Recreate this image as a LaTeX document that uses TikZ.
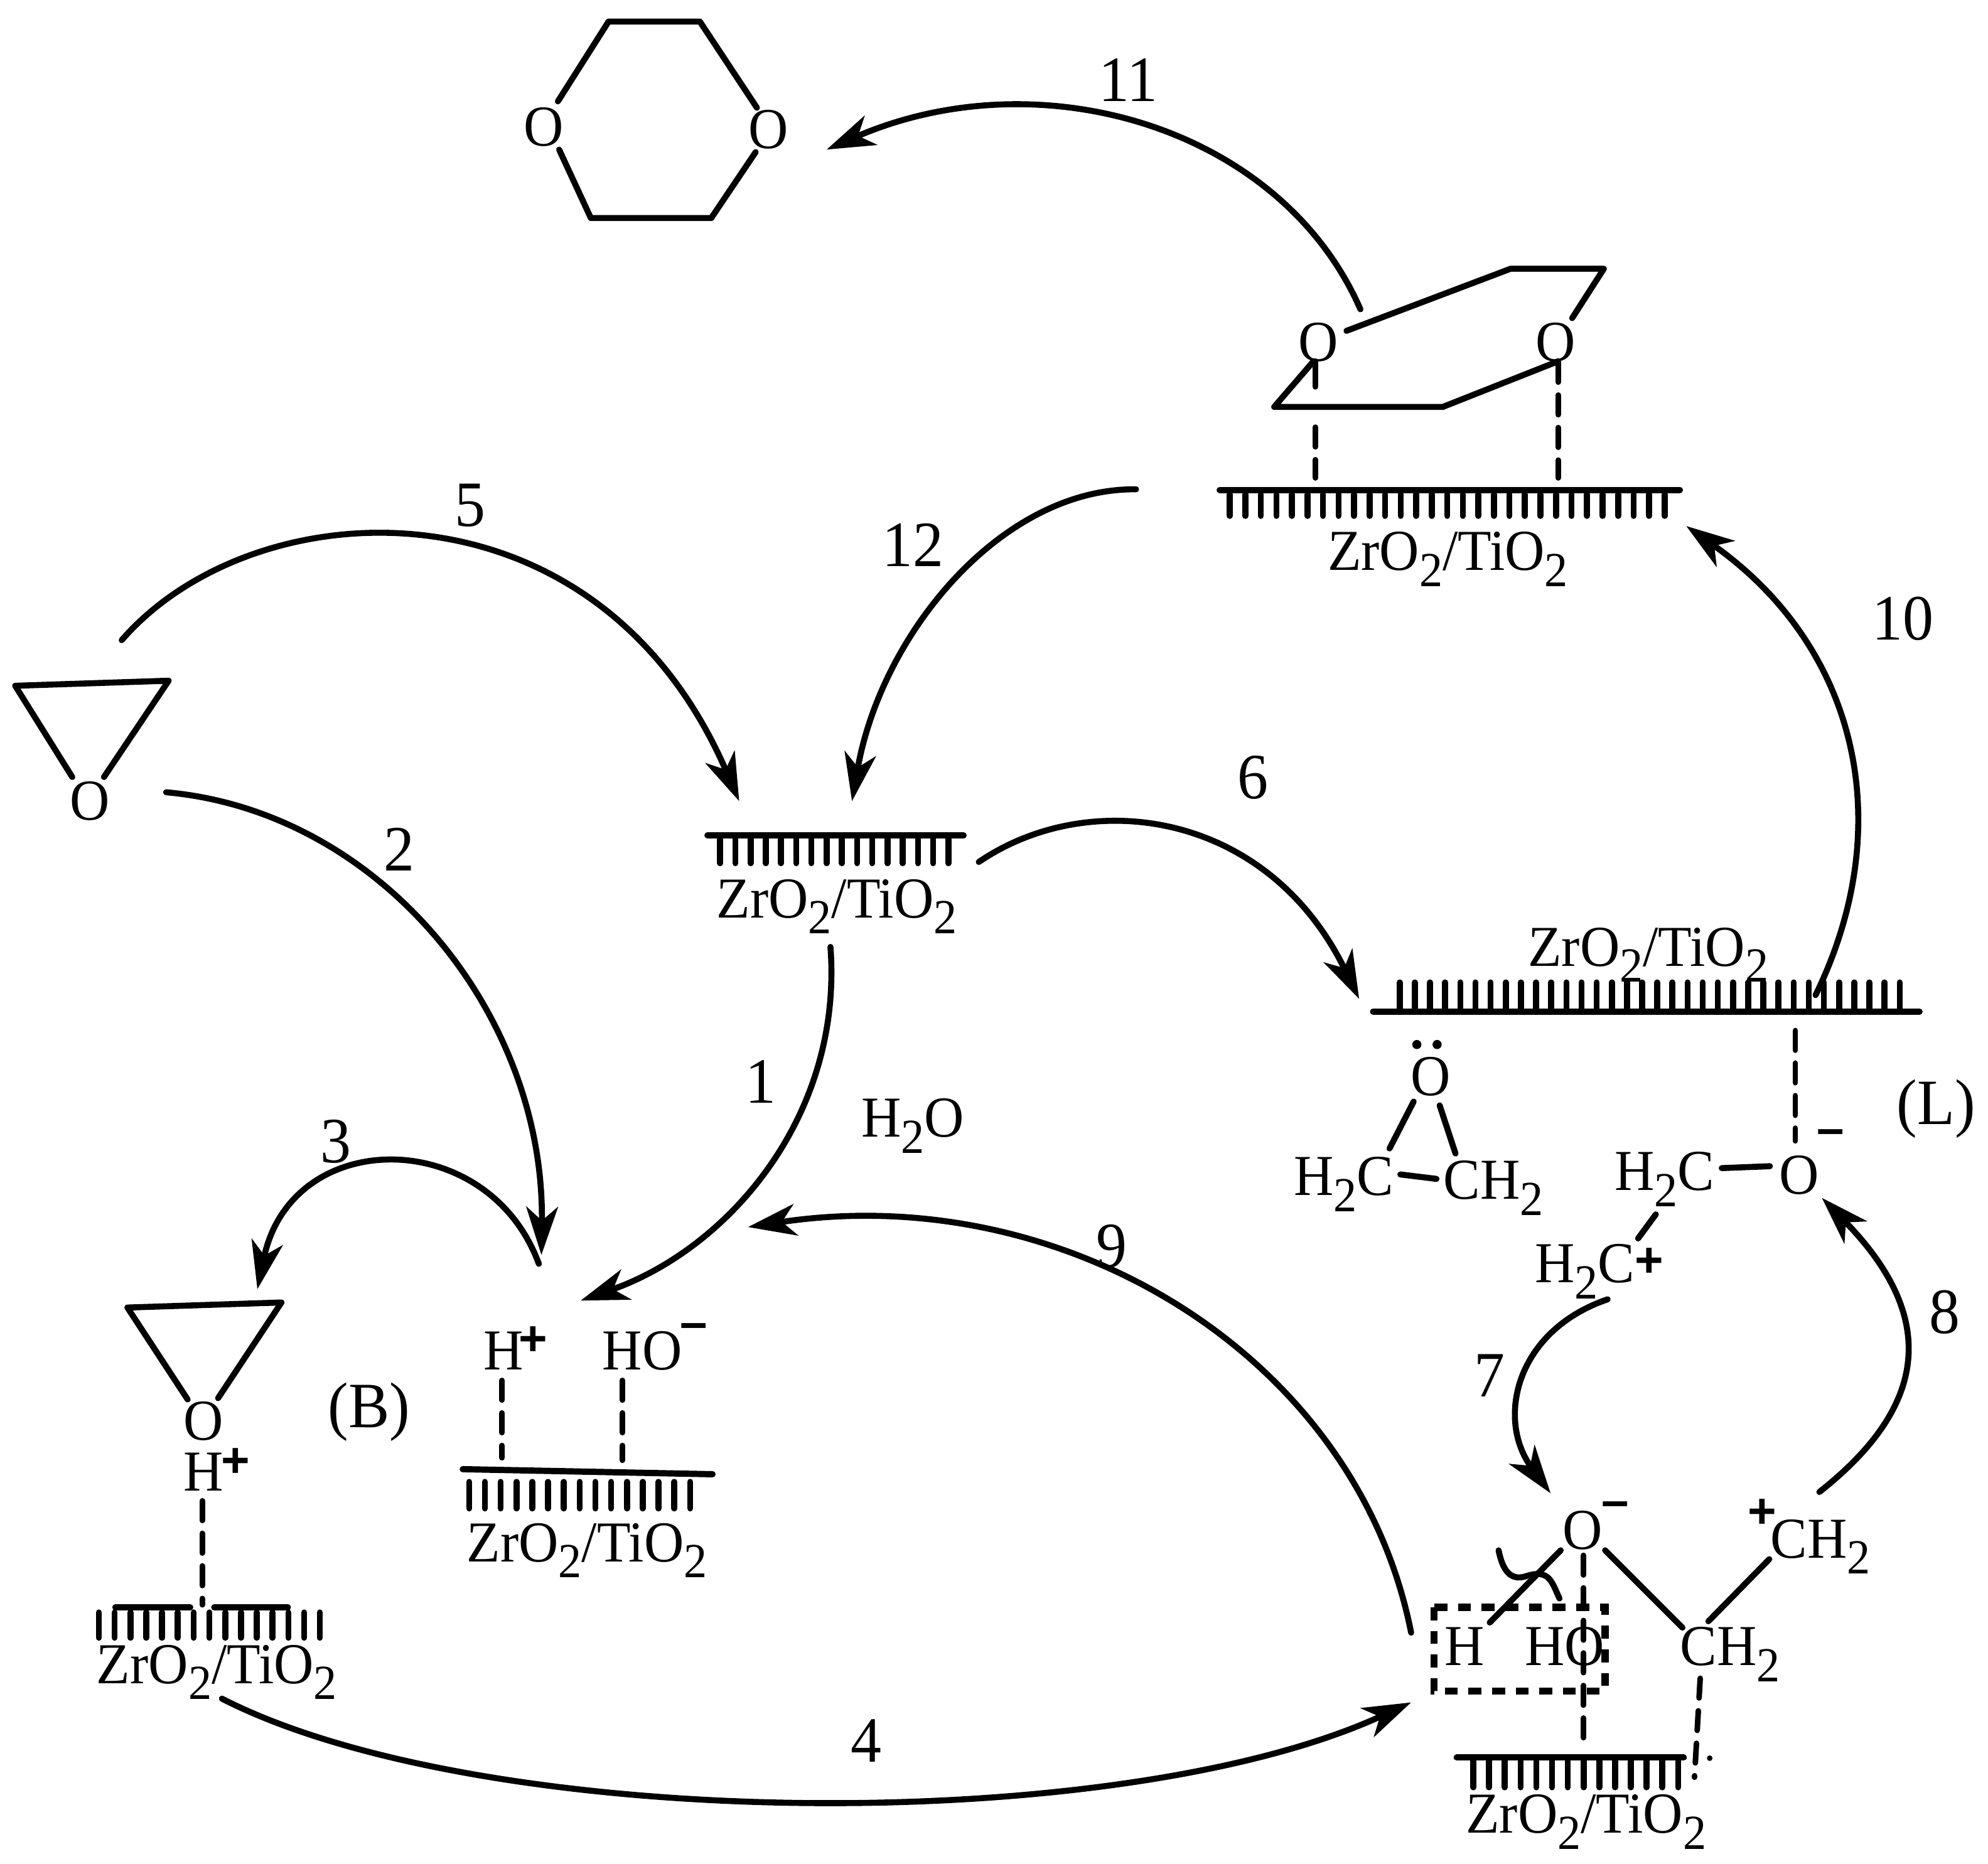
\documentclass[tikz,border=0pt]{standalone}
\usepackage{fontspec}
\setmainfont[FakeStretch=0.95]{Liberation Serif}
\newfontfamily\chgfont{Liberation Sans}
\usetikzlibrary{arrows.meta}

\newcommand{\sbt}{\raisebox{-3.6pt}{\fontsize{11}{11}\selectfont 2}}
\newcommand{\oxide}{ZrO\sbt/TiO\sbt}
\newcommand{\tickrow}[5]{\foreach \i in {0,...,#3} \draw[bond] ({#1+\i*#2},#4) -- ({#1+\i*#2},#5);}

\tikzset{
  bond/.style={line width=1.35pt,line cap=round,line join=round},
  base/.style={line width=1.4pt,line cap=round},
  hbond/.style={line width=1.25pt,line cap=round,dash pattern=on 4.4pt off 2.9pt},
  rxn/.style={line width=1.35pt,line cap=round,-{Stealth[length=3.8mm,width=2.5mm,inset=1.1mm]}},
  chem/.style={inner sep=0pt,anchor=base,font=\fontsize{13}{13}\selectfont},
  num/.style={inner sep=0pt,anchor=base,font=\fontsize{14.5}{14.5}\selectfont},
  chg/.style={inner sep=0pt,font=\fontsize{11}{11}\selectfont\chgfont\bfseries},
}

\begin{document}
\begin{tikzpicture}[x=0.01cm,y=-0.01cm]
\useasboundingbox (0,0) rectangle (1568,1470);

% free ends of the arrows
\coordinate (dioxTop) at (652,118);
\coordinate (ringTop) at (1073,244);
\coordinate (surfTop) at (896,386);
\coordinate (surfTopIn) at (1330,415);
\coordinate (surfMidA) at (672,632);
\coordinate (surfMidB) at (583,632);
\coordinate (surfMidOut) at (772,680);
\coordinate (surfMidDown) at (655,747);
\coordinate (eoA) at (96,505);
\coordinate (eoB) at (131,625);
\coordinate (acidIn) at (427,990);
\coordinate (acidOut) at (425,997);
\coordinate (acidSite) at (458,1026);
\coordinate (waterIn) at (590,968);
\coordinate (eoAds) at (203,1017);
\coordinate (leftOut) at (175,1340);
\coordinate (boxIn) at (1113,1343);
\coordinate (boxOut) at (1113,1288);
\coordinate (surfRight) at (1072,788);
\coordinate (surfRightOut) at (1432,785);
\coordinate (chainOut) at (1268,1025);
\coordinate (oxIn) at (1223,1178);
\coordinate (chainUp) at (1435,1177);
\coordinate (oxMinus) at (1437,945);

% dioxane
\node[chem] (oDioxL) at (429,115) {O};
\node[chem] (oDioxR) at (606,117) {O};
\draw[bond] (440,80) -- (480,17) -- (552,17) -- (597,85);
\draw[bond] (441,118) -- (466,172) -- (561,172) -- (596,120);

% adsorbed dioxane
\node[chem] (oRingL) at (1040,285) {O};
\node[chem] (oRingR) at (1227,285) {O};
\draw[bond] (1062,261) -- (1191.5,212) -- (1265,212) -- (1240,251);
\draw[bond] (1229,285) -- (1138,321) -- (1005,321) -- (1036,285);
\draw[bond] (1037.5,285) -- (1037.5,305);
\draw[hbond] (1037.5,337) -- (1037.5,377);
\draw[hbond] (1229,286) -- (1229,377);
\draw[base] (962,386.5) -- (1325,386.5);
\tickrow{970}{12.25}{28}{390}{407}
\node[chem] (zrTop) at (1142,450) {\oxide};

% free surface
\draw[base] (558,659) -- (760,659);
\tickrow{568}{12}{15}{662}{681}
\node[chem] (zrMid) at (660,724) {\oxide};

% ethylene oxide
\draw[bond] (57,613) -- (12,541) -- (133,537) -- (82,613);
\node[chem] (oEo) at (71,647) {O};

% Lewis site
\node[chem] (zrRight) at (1300,762) {\oxide};
\tickrow{1104}{11.95}{33}{775}{796}
\draw[base] (1083,798) -- (1514,798);
\node[chem] (oLewis) at (1128.5,864) {O};
\fill (1117.5,824) circle (3.6);
\fill (1133.5,824) circle (3.6);
\draw[bond] (1115,869) -- (1096,906);
\draw[bond] (1135.5,872) -- (1148,910);
\node[chem] (hcLewis) at (1060,943) {H\sbt C};
\node[chem] (chLewis) at (1178,946) {CH\sbt};
\draw[bond] (1104.5,926.5) -- (1133,930);

% open chain on the Lewis site
\draw[hbond] (1416,813) -- (1416,900);
\node[chg] (minusL) at (1444,897) {–};
\node[chem] (oChain) at (1419,942) {O};
\node[chem] (hcChain) at (1313,939) {H\sbt C};
\draw[bond] (1358,921.5) -- (1396,920);
\draw[bond] (1306,958) -- (1292,977);
\node[chem] (hcPlus) at (1250,1012) {H\sbt C};
\node[chg] (plusL) at (1301,996) {+};
\node[num] (lewis) at (1527,887) {(L)};

% Bronsted site with adsorbed ethylene oxide
\draw[bond] (148,1104) -- (100.5,1031.5) -- (222,1027.5) -- (172,1103);
\node[chem] (oAds) at (160.5,1136) {O};
\node[chem] (hAds) at (160.5,1176) {H};
\node[chg] (plusAds) at (186,1154) {+};
\node[num] (bronsted) at (291,1126) {(B)};
\draw[hbond] (159.5,1184) -- (159.5,1266);
\draw[base] (91,1268) -- (150,1268);
\draw[base] (169,1268) -- (227,1268);
\tickrow{78}{12.45}{14}{1272}{1292}
\node[chem] (zrLeft) at (171,1328) {\oxide};

% dissociated water
\node[chem] (hSite) at (397,1080.5) {H};
\node[chg] (plusSite) at (420.5,1058) {+};
\node[chem] (hoSite) at (506.5,1080.5) {HO};
\node[chg] (minusSite) at (547,1050) {–};
\draw[hbond] (396,1089) -- (396,1150);
\draw[hbond] (491,1089) -- (491,1152);
\draw[base] (365,1159) -- (562,1163);
\tickrow{370}{12.45}{14}{1169}{1190}
\node[chem] (zrSite) at (463,1232) {\oxide};

% surface intermediate
\node[chem] (oBox) at (1248,1222) {O};
\node[chg] (minusBox) at (1274,1191) {–};
\node[chg] (plusBox) at (1390,1194) {+};
\node[chem] (chTop) at (1436,1229) {CH\sbt};
\node[chem] (hBox) at (1155,1314) {H};
\node[chem] (hoBox) at (1234,1314) {HO};
\node[chem] (chBox) at (1364.5,1314) {CH\sbt};
\draw[bond] (1231,1223) -- (1175,1280);
\draw[bond] (1266,1223) -- (1327,1284);
\draw[bond] (1347.5,1279) -- (1395.5,1230);
\draw[bond] (1182,1223) .. controls (1186,1243) and (1194,1247) .. (1205,1243) .. controls (1222,1238) and (1224,1248) .. (1230,1261);
\draw[hbond] (1249,1227) -- (1249,1378);
\draw[hbond] (1341,1324) -- (1336.5,1402);
\draw[line width=1.6pt,dash pattern=on 2.9pt off 2.4pt] (1131,1268) rectangle (1266,1334);
\fill (1348.5,1387) circle (2.2);
\draw[base] (1149,1386.5) -- (1328,1386.5);
\tickrow{1162}{12.43}{13}{1389}{1410}
\node[chem] (zrBottom) at (1251,1446) {\oxide};

\node[chem] (water) at (720,897) {H\sbt O};

% numbered steps
\draw[rxn] (ringTop) .. controls (1010,100) and (820,45) .. (dioxTop);
\draw[rxn] (surfTop) .. controls (790,385) and (695,500) .. (surfMidA);
\draw[rxn] (eoA) .. controls (200,385) and (470,370) .. (surfMidB);
\draw[rxn] (eoB) .. controls (300,640) and (430,800) .. (acidIn);
\draw[rxn] (acidOut) .. controls (385,888) and (230,888) .. (eoAds);
\draw[rxn] (surfMidDown) .. controls (665,880) and (575,985) .. (acidSite);
\draw[rxn] (surfMidOut) .. controls (860,620) and (1000,640) .. (surfRight);
\draw[rxn] (boxOut) .. controls (1070,1070) and (840,930) .. (waterIn);
\draw[rxn] (leftOut) .. controls (380,1445) and (880,1450) .. (boxIn);
\draw[rxn] (chainOut) .. controls (1195,1050) and (1180,1120) .. (oxIn);
\draw[rxn] (chainUp) .. controls (1520,1110) and (1530,1040) .. (oxMinus);
\draw[rxn] (surfRightOut) .. controls (1498,650) and (1465,510) .. (surfTopIn);

\node[num] (step11) at (890,80) {11};
\node[num] (step5) at (371,415) {5};
\node[num] (step12) at (720,447) {12};
\node[num] (step10) at (1501,505) {10};
\node[num] (step6) at (988,630) {6};
\node[num] (step2) at (315,687) {2};
\node[num] (step1) at (600,870) {1};
\node[num] (step3) at (265,917) {3};
\node[num] (step9) at (877,1000) {9};
\node[num] (step8) at (1534,1052) {8};
\node[num] (step7) at (1175,1102) {7};
\node[num] (step4) at (683,1390) {4};

\end{tikzpicture}
\end{document}
